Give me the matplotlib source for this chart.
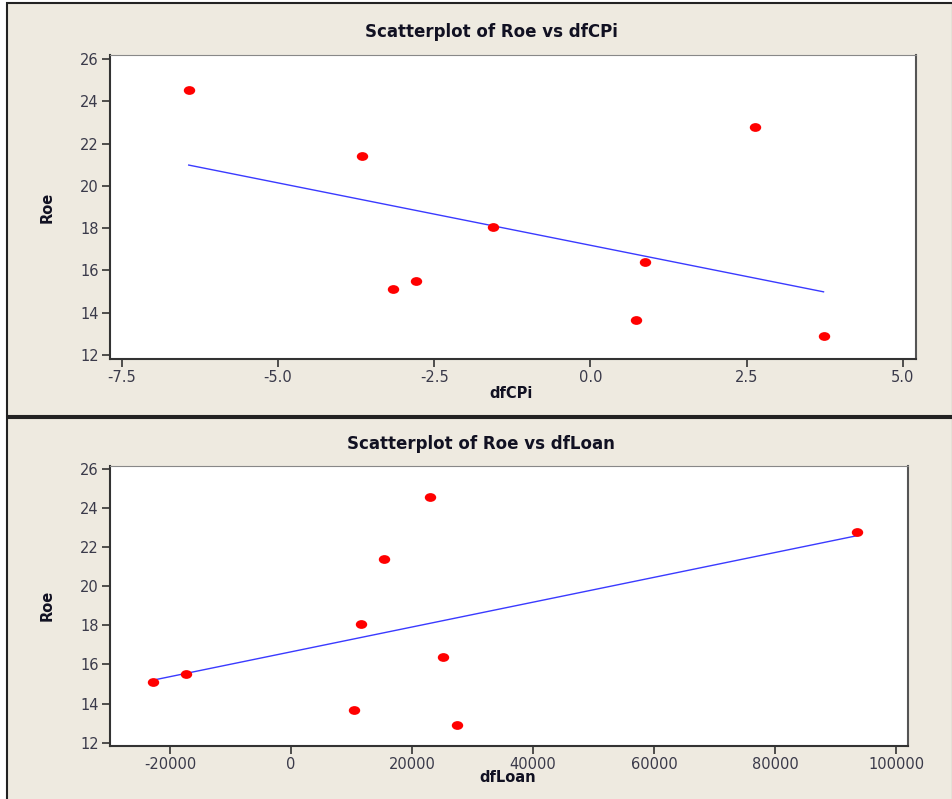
import numpy as np
import matplotlib
matplotlib.use("Agg")
import matplotlib.pyplot as plt
from matplotlib.patches import Rectangle
from matplotlib.markers import MarkerStyle
from matplotlib.transforms import Affine2D

# dados
roe = [24.55, 21.4, 15.12, 15.5, 18.05, 16.4, 13.66, 22.79, 12.9]
dfcpi = [-6.43, -3.65, -3.16, -2.79, -1.56, 0.88, 0.73, 2.64, 3.73]
dfloan = [22980, 15370, -22800, -17400, 11570, 25170, 10470, 93550, 27490]

cpi_ticks = [-7.5, -5.0, -2.5, 0.0, 2.5, 5.0]
loan_ticks = [-20000, 0, 20000, 40000, 60000, 80000, 100000]
roe_ticks = [12, 14, 16, 18, 20, 22, 24, 26]

plt.rcParams["axes.unicode_minus"] = False

W, H = 952, 799
bege = "#eeeae0"
fig = plt.figure(figsize=(W / 100, H / 100), dpi=100)
fig.patch.set_facecolor("white")

# ponto vermelho levemente achatado, como no Minitab
ponto = MarkerStyle("o", transform=Affine2D().scale(1.3, 1.0))


def px_rect(x0, y0, x1, y1):
    return [x0 / W, (H - y1) / H, (x1 - x0) / W, (y1 - y0) / H]


# molduras dos dois painéis (atrás dos eixos)
for (x0, y0, x1, y1) in [(7, 3, 953, 416), (7, 418, 953, 801)]:
    r = px_rect(x0, y0, x1, y1)
    fig.patches.append(Rectangle((r[0], r[1]), r[2], r[3], transform=fig.transFigure,
                                 facecolor=bege, edgecolor="#222222", linewidth=1.5,
                                 zorder=-10))


def painel(rect, x, y, xticks, xlim, ylim, titulo, xlabel, title_xy, xlabel_xy, ylabel_xy):
    ax = fig.add_axes(px_rect(*rect))
    ax.set_facecolor("white")
    ax.scatter(x, y, s=40, marker=ponto, color="#ff0000", zorder=3, linewidths=0)
    b, a = np.polyfit(x, y, 1)
    xs = np.array([min(x), max(x)])
    ax.plot(xs, a + b * xs, color="#3a3aff", linewidth=1)
    ax.set_xlim(*xlim)
    ax.set_ylim(*ylim)
    ax.set_xticks(xticks)
    ax.set_yticks(roe_ticks)
    if isinstance(xticks[0], float):
        ax.set_xticklabels([f"{t:.1f}" for t in xticks])
    ax.tick_params(direction="out", length=6, width=1.2, colors="#333333",
                   labelsize=10.5, labelcolor="#3a3a4a", pad=2)
    for s in ["left", "bottom"]:
        ax.spines[s].set_color("#333333")
        ax.spines[s].set_linewidth(1.5)
    ax.spines["top"].set_color("#888888")
    ax.spines["right"].set_color("#555555")
    ax.spines["right"].set_linewidth(1.5)
    fig.text(title_xy[0] / W, 1 - title_xy[1] / H, titulo, ha="center", va="center",
             fontsize=12, fontweight="bold", color="#111122")
    fig.text(xlabel_xy[0] / W, 1 - xlabel_xy[1] / H, xlabel, ha="center", va="center",
             fontsize=10.5, fontweight="bold", color="#111122")
    fig.text(ylabel_xy[0] / W, 1 - ylabel_xy[1] / H, "Roe", ha="center", va="center",
             rotation=90, fontsize=10.5, fontweight="bold", color="#111122")
    return ax


painel((110, 55, 916, 359), dfcpi, roe, cpi_ticks, (-7.69, 5.21), (11.81, 26.19),
       "Scatterplot of Roe vs dfCPi", "dfCPi", (491, 32), (511, 393), (47, 207))
painel((110, 466, 908, 746), dfloan, roe, loan_ticks, (-29900, 101980), (11.83, 26.15),
       "Scatterplot of Roe vs dfLoan", "dfLoan", (481, 444), (508, 778), (47, 605))

plt.savefig("out.png", dpi=100, facecolor=fig.get_facecolor())
